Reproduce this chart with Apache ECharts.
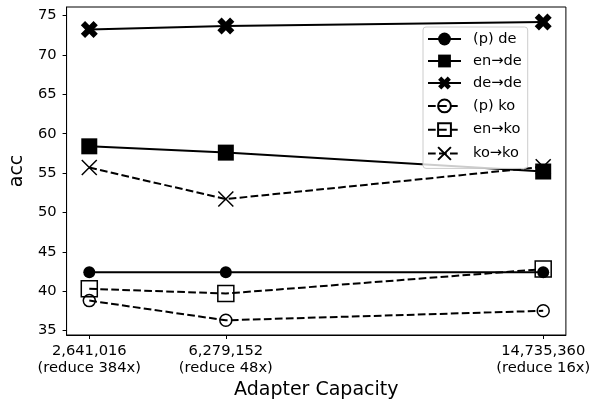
<!DOCTYPE html>
<html>
<head>
<meta charset="utf-8">
<script src="https://cdn.jsdelivr.net/npm/echarts@6/dist/echarts.min.js"></script>
<style>html,body{margin:0;padding:0;background:#fff}#c{width:593px;height:407px}</style>
</head>
<body>
<div id="c"></div>
<script>
var capacities = [2641016, 6279152, 14735360];
var xTickLabels = ['2,641,016\n(reduce 384x)', '6,279,152\n(reduce 48x)', '14,735,360\n(reduce 16x)'];
var yTicks = [35, 40, 45, 50, 55, 60, 65, 70, 75];

var pDe = [42.4, 42.4, 42.4];
var enDe = [58.4, 57.6, 55.2];
var deDe = [73.25, 73.7, 74.2];
var pKo = [38.8, 36.3, 37.5];
var enKo = [40.3, 39.7, 42.8];
var koKo = [55.7, 51.7, 55.8];

var seriesNames = ['(p) de', 'en\u2192de', 'de\u2192de', '(p) ko', 'en\u2192ko', 'ko\u2192ko'];

var bigX = 'path://M0,3 L3,0 L6,3 L9,0 L12,3 L9,6 L12,9 L9,12 L6,9 L3,12 L0,9 L3,6 Z';
var thinX = 'path://M0,0 L10,10 M0,10 L10,0';

function pairs(vals) {
  return vals.map(function (v, i) { return [capacities[i], v]; });
}
function mk(name, vals, symbol, size, filled, dashed) {
  return {
    name: name,
    type: 'line',
    data: pairs(vals),
    symbol: symbol,
    symbolSize: size,
    symbolKeepAspect: true,
    showSymbol: true,
    animation: false,
    lineStyle: { color: '#000', width: 2, type: dashed ? [7.7, 3.3] : 'solid' },
    itemStyle: filled ? { color: '#000', borderColor: '#000', borderWidth: 0 }
                      : { color: 'none', borderColor: '#000', borderWidth: 1.5 },
    emphasis: { disabled: true }
  };
}

var chart = echarts.init(document.getElementById('c'), null, { renderer: 'canvas' });
chart.setOption({
  animation: false,
  textStyle: { fontFamily: 'DejaVu Sans', color: '#000' },
  grid: { left: 62, right: 27, top: 7, bottom: 72, show: true, borderColor: '#000', borderWidth: 1, backgroundColor: 'transparent' },
  legend: {
    orient: 'vertical',
    left: 423,
    top: 27,
    padding: [4, 6, 6, 4],
    itemWidth: 33,
    itemHeight: 16,
    itemGap: 6,
    backgroundColor: 'rgba(255,255,255,0.8)',
    borderColor: '#cccccc',
    borderWidth: 1,
    borderRadius: 3,
    textStyle: { fontFamily: 'DejaVu Sans', fontSize: 14.6, lineHeight: 16, color: '#000', padding: [0, 0, 0, 7] },
    data: seriesNames
  },
  xAxis: {
    type: 'value',
    min: 2036299,
    max: 15340077,
    name: 'Adapter Capacity',
    nameLocation: 'middle',
    nameGap: 44,
    nameTextStyle: { fontFamily: 'DejaVu Sans', fontSize: 19, color: '#000' },
    axisLine: { show: true, lineStyle: { color: '#000', width: 1 } },
    axisTick: { show: true, customValues: capacities, length: 4, lineStyle: { color: '#000', width: 1 } },
    axisLabel: {
      customValues: capacities,
      margin: 8,
      fontFamily: 'DejaVu Sans',
      fontSize: 14.7,
      lineHeight: 16.5,
      color: '#000',
      formatter: function (v) {
        var i = capacities.indexOf(v);
        return i >= 0 ? xTickLabels[i] : '';
      }
    },
    splitLine: { show: false }
  },
  yAxis: {
    type: 'value',
    min: 34.43,
    max: 76.1,
    name: 'acc',
    nameLocation: 'middle',
    nameGap: 34,
    nameTextStyle: { fontFamily: 'DejaVu Sans', fontSize: 19, color: '#000' },
    axisLine: { show: true, lineStyle: { color: '#000', width: 1 } },
    axisTick: { show: true, customValues: yTicks, length: 4, lineStyle: { color: '#000', width: 1 } },
    axisLabel: { customValues: yTicks, margin: 10, fontFamily: 'DejaVu Sans', fontSize: 14.7, color: '#000' },
    splitLine: { show: false }
  },
  series: [
    mk(seriesNames[0], pDe, 'circle', 12, true, false),
    mk(seriesNames[1], enDe, 'rect', 16, true, false),
    mk(seriesNames[2], deDe, bigX, 17, true, false),
    mk(seriesNames[3], pKo, 'circle', 12, false, true),
    mk(seriesNames[4], enKo, 'rect', 16, false, true),
    mk(seriesNames[5], koKo, thinX, 15, false, true)
  ]
});
</script>
</body>
</html>
